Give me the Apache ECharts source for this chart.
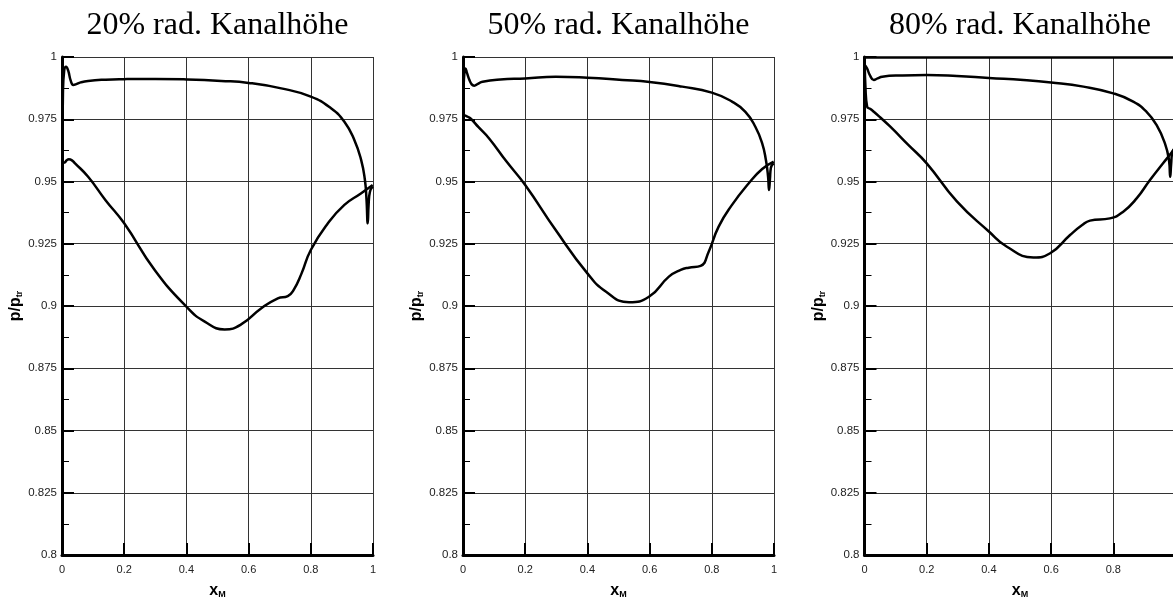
<!DOCTYPE html>
<html>
<head>
<meta charset="utf-8">
<script src="https://cdn.jsdelivr.net/npm/echarts@6/dist/echarts.min.js"></script>
<style>html,body{margin:0;padding:0;background:#fff}#c{width:1173px;height:602px}</style>
</head>
<body>
<div id="c"></div>
<script>
// Panel titles
const titles = ['20% rad. Kanalhöhe', '50% rad. Kanalhöhe', '80% rad. Kanalhöhe'];
// x tick values and y range
const xTicks = [0, 0.2, 0.4, 0.6, 0.8, 1];
const yMin = 0.8, yMax = 1, yStep = 0.025;

// 20% span
const upper20 = [[0.001,0.9575],[0.003,0.985],[0.007,0.9945],[0.013,0.9961],[0.02,0.9945],[0.028,0.9905],[0.036,0.9888],[0.044,0.989],[0.06,0.9898],[0.084,0.9904],[0.14,0.9909],[0.2,0.9911],[0.3,0.9912],[0.4,0.9910],[0.512,0.9904],[0.6,0.9896],[0.705,0.9874],[0.8,0.9841],[0.865,0.9794],[0.908,0.974],[0.94,0.9667],[0.962,0.9586],[0.974,0.9506],[0.979,0.943],[0.983,0.9332],[0.986,0.941],[0.99,0.9458],[0.999,0.948]];
const lower20 = [[0.001,0.9575],[0.008,0.9576],[0.015,0.9585],[0.022,0.9589],[0.032,0.9585],[0.042,0.9573],[0.084,0.9519],[0.14,0.9425],[0.2,0.9332],[0.298,0.9145],[0.4,0.8997],[0.459,0.8937],[0.523,0.8906],[0.576,0.8926],[0.641,0.8991],[0.694,0.9031],[0.726,0.904],[0.745,0.9065],[0.77,0.913],[0.8,0.9225],[0.855,0.9332],[0.908,0.9406],[0.961,0.9452],[0.999,0.9486]];

// 50% span
const upper50 = [[0.001,0.977],[0.002,0.988],[0.005,0.9945],[0.0075,0.9954],[0.013,0.9935],[0.02,0.991],[0.028,0.9890],[0.036,0.9885],[0.048,0.9892],[0.063,0.9901],[0.12,0.991],[0.2,0.9914],[0.298,0.9921],[0.4,0.9917],[0.512,0.9908],[0.6,0.99],[0.705,0.9881],[0.8,0.9857],[0.865,0.9821],[0.908,0.978],[0.94,0.972],[0.962,0.9653],[0.974,0.9586],[0.981,0.9519],[0.984,0.9466],[0.987,0.951],[0.99,0.9555],[0.999,0.9573]];
const lower50 = [[0.001,0.977],[0.004,0.9767],[0.015,0.976],[0.026,0.9751],[0.05,0.9718],[0.084,0.9673],[0.14,0.958],[0.2,0.9486],[0.298,0.9305],[0.4,0.9131],[0.459,0.9058],[0.534,0.9015],[0.598,0.9037],[0.662,0.9118],[0.7,0.9145],[0.726,0.9154],[0.764,0.9161],[0.79,0.9218],[0.822,0.9319],[0.865,0.9406],[0.919,0.9493],[0.962,0.955],[0.999,0.958]];

// 80% span
const upper80 = [[0.001,0.9968],[0.008,0.9955],[0.018,0.9925],[0.03,0.9908],[0.042,0.9914],[0.057,0.9921],[0.12,0.9926],[0.2,0.9928],[0.297,0.9924],[0.4,0.9916],[0.511,0.9908],[0.6,0.9898],[0.704,0.9881],[0.8,0.9854],[0.864,0.9821],[0.907,0.978],[0.939,0.9727],[0.966,0.9653],[0.979,0.9586],[0.983,0.9519],[0.986,0.957],[0.99,0.9618],[0.999,0.9635]];
const lower80 = [[0.001,0.9968],[0.003,0.988],[0.0085,0.980],[0.018,0.9792],[0.03,0.978],[0.05,0.9758],[0.083,0.972],[0.14,0.9648],[0.2,0.9573],[0.297,0.942],[0.4,0.9299],[0.458,0.9238],[0.543,0.9195],[0.597,0.9212],[0.661,0.9285],[0.7,0.9325],[0.725,0.9343],[0.789,0.9352],[0.832,0.9379],[0.875,0.9432],[0.918,0.9506],[0.96,0.9573],[0.99,0.962],[0.999,0.9635]];

const seriesData = [[upper20, lower20], [upper50, lower50], [upper80, lower80]];

const gridLefts = [62, 463, 864.5];
const gridW = 311, gridTop = 57, gridH = 498;

const chart = echarts.init(document.getElementById('c'), null, {renderer: 'canvas'});
const grids = [], xAxes = [], yAxes = [], series = [], graphics = [];
const labelFont = 'Liberation Sans';

for (let i = 0; i < 3; i++) {
  grids.push({left: gridLefts[i], top: gridTop, width: gridW, height: gridH,
    containLabel: false, outerBoundsMode: 'none'});
  xAxes.push({
    gridIndex: i, type: 'value', min: xTicks[0], max: xTicks[xTicks.length - 1], interval: 0.2,
    axisLine: {show: true, onZero: false, lineStyle: {color: '#000', width: 3}},
    axisTick: {show: true, inside: true, length: 12, lineStyle: {color: '#000', width: 2}},
    axisLabel: {fontSize: 11, color: '#222', margin: 9, fontFamily: labelFont,
      formatter: v => String(+v.toFixed(2))},
    splitLine: {show: true, lineStyle: {color: '#333', width: 1}},
    name: '{b|x}{s|M}', nameLocation: 'middle', nameGap: 27,
    nameTextStyle: {rich: {
      b: {fontSize: 16, fontWeight: 'bold', fontFamily: labelFont, color: '#000'},
      s: {fontSize: 9, fontWeight: 'bold', fontFamily: labelFont, color: '#000', padding: [8, 0, 0, 0]}
    }}
  });
  yAxes.push({
    gridIndex: i, type: 'value', min: yMin, max: yMax, interval: yStep,
    axisLine: {show: true, onZero: false, lineStyle: {color: '#000', width: 3}},
    axisTick: {show: true, inside: true, length: 12, lineStyle: {color: '#000', width: 2}},
    minorTick: {show: true, splitNumber: 2, length: 7, lineStyle: {color: '#000', width: 1}},
    axisLabel: {fontSize: 11.5, color: '#222', margin: 5, fontFamily: labelFont,
      formatter: v => String(+v.toFixed(3))},
    splitLine: {show: true, lineStyle: {color: '#333', width: 1}},
    name: '{b|p/p}{s|tr}', nameLocation: 'middle', nameGap: 30, nameRotate: 90,
    nameTextStyle: {rich: {
      b: {fontSize: 16, fontWeight: 'bold', fontFamily: labelFont, color: '#000'},
      s: {fontSize: 9, fontWeight: 'bold', fontFamily: labelFont, color: '#000', padding: [8, 0, 0, 0]}
    }}
  });
  seriesData[i].forEach(d => {
    series.push({
      type: 'line', xAxisIndex: i, yAxisIndex: i, data: d, showSymbol: false,
      smooth: 0.5,
      lineStyle: {color: '#000', width: 2.5}, animation: false, silent: true
    });
  });
  graphics.push({
    type: 'text', x: gridLefts[i] + gridW / 2, y: 26,
    style: {text: titles[i], font: '32px "Liberation Serif"', fill: '#000',
      textAlign: 'center', textVerticalAlign: 'middle'}
  });
}
// thick top frame on third panel
xAxes.push({
  gridIndex: 2, type: 'value', position: 'top', min: 0, max: 1, interval: 0.2,
  axisLine: {show: true, onZero: false, lineStyle: {color: '#000', width: 2.5}},
  axisTick: {show: false}, axisLabel: {show: false}, splitLine: {show: false}
});

chart.setOption({
  animation: false,
  backgroundColor: '#fff',
  grid: grids, xAxis: xAxes, yAxis: yAxes, series: series, graphic: graphics
});
</script>
</body>
</html>
